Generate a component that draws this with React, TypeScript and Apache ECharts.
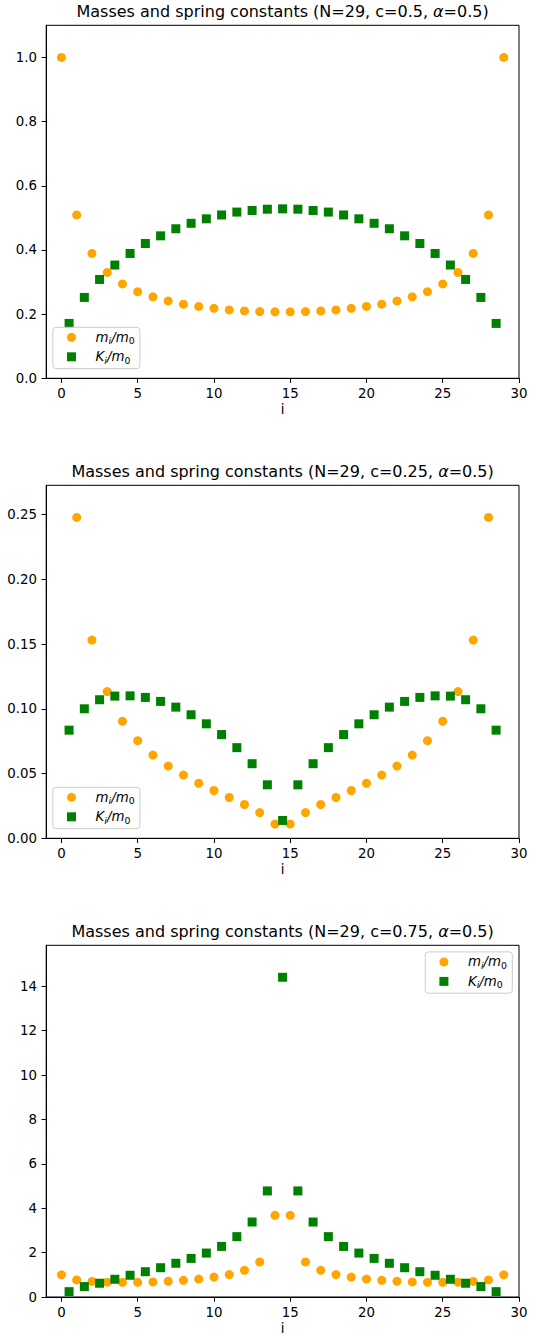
import React, { useEffect, useRef } from "react";
import * as echarts from "echarts";

// ---------- data ----------
const massIndex = [0, 1, 2, 3, 4, 5, 6, 7, 8, 9, 10, 11, 12, 13, 14, 15, 16, 17, 18, 19, 20, 21, 22, 23, 24, 25, 26, 27, 28, 29];
const springIndex = [0.5, 1.5, 2.5, 3.5, 4.5, 5.5, 6.5, 7.5, 8.5, 9.5, 10.5, 11.5, 12.5, 13.5, 14.5, 15.5, 16.5, 17.5, 18.5, 19.5, 20.5, 21.5, 22.5, 23.5, 24.5, 25.5, 26.5, 27.5, 28.5];

const titleCs = ["0.5", "0.25", "0.75"];

// c = 0.5
const mass1 = [1.0, 0.509, 0.389, 0.330, 0.294, 0.270, 0.254, 0.241, 0.231, 0.224, 0.218, 0.213, 0.210, 0.208, 0.207, 0.207, 0.208, 0.210, 0.213, 0.218, 0.224, 0.231, 0.241, 0.254, 0.270, 0.294, 0.330, 0.389, 0.509, 1.0];
const spring1 = [0.171, 0.252, 0.308, 0.353, 0.389, 0.420, 0.444, 0.466, 0.483, 0.497, 0.509, 0.518, 0.523, 0.527, 0.528, 0.527, 0.523, 0.518, 0.509, 0.497, 0.483, 0.466, 0.444, 0.420, 0.389, 0.353, 0.308, 0.252, 0.171];

// c = 0.25
const mass2 = [null, 0.2478, 0.1531, 0.1133, 0.0904, 0.0754, 0.0643, 0.0558, 0.0488, 0.0425, 0.0369, 0.0315, 0.0261, 0.0199, 0.0110, 0.0110, 0.0199, 0.0261, 0.0315, 0.0369, 0.0425, 0.0488, 0.0558, 0.0643, 0.0754, 0.0904, 0.1133, 0.1531, 0.2478, null];
const spring2 = [0.0835, 0.1000, 0.1070, 0.1098, 0.1100, 0.1088, 0.1057, 0.1013, 0.0954, 0.0884, 0.0801, 0.0700, 0.0576, 0.0413, 0.0138, 0.0413, 0.0576, 0.0700, 0.0801, 0.0884, 0.0954, 0.1013, 0.1057, 0.1088, 0.1100, 0.1098, 0.1070, 0.1000, 0.0835];

// c = 0.75
const mass3 = [1.0, 0.77, 0.70, 0.67, 0.66, 0.66, 0.68, 0.71, 0.75, 0.81, 0.90, 1.01, 1.20, 1.58, 3.68, 3.68, 1.58, 1.20, 1.01, 0.90, 0.81, 0.75, 0.71, 0.68, 0.66, 0.66, 0.67, 0.70, 0.77, 1.0];
const spring3 = [0.24, 0.47, 0.62, 0.80, 0.98, 1.14, 1.32, 1.52, 1.74, 1.98, 2.28, 2.72, 3.38, 4.78, 14.41, 4.78, 3.38, 2.72, 2.28, 1.98, 1.74, 1.52, 1.32, 1.14, 0.98, 0.80, 0.62, 0.47, 0.24];

// ticks
const xTicks = [0, 5, 10, 15, 20, 25, 30];
const xTickLabels = ["0", "5", "10", "15", "20", "25", "30"];
const yTicks1 = [0, 0.2, 0.4, 0.6, 0.8, 1.0];
const yTickLabels1 = ["0.0", "0.2", "0.4", "0.6", "0.8", "1.0"];
const yTicks2 = [0, 0.05, 0.1, 0.15, 0.2, 0.25];
const yTickLabels2 = ["0.00", "0.05", "0.10", "0.15", "0.20", "0.25"];
const yTicks3 = [0, 2, 4, 6, 8, 10, 12, 14];
const yTickLabels3 = ["0", "2", "4", "6", "8", "10", "12", "14"];

// ---------- styling ----------
const FONT = "DejaVu Sans";
const ORANGE = "#FFA500";
const GREEN = "#008000";
const TICK_FS = 13.33;
const AX_LEFT = 46.2;
const AX_RIGHT = 519;
const AX_H = 353;
const AX_TOPS = [25.3, 485.3, 945.3];

export default function App() {
  const ref = useRef<HTMLDivElement>(null);
  useEffect(() => {
    if (!ref.current) return;
    const chart = echarts.init(ref.current, null, { renderer: "svg" });

    const panels = [
      { mass: mass1, spring: spring1, yT: yTicks1, yL: yTickLabels1, legendPos: { left: 52.9, top: AX_TOPS[0] + 302 } },
      { mass: mass2, spring: spring2, yT: yTicks2, yL: yTickLabels2, legendPos: { left: 52.9, top: AX_TOPS[1] + 302 } },
      { mass: mass3, spring: spring3, yT: yTicks3, yL: yTickLabels3, legendPos: { right: 536 - 512.3, top: AX_TOPS[2] + 6.6 } },
    ];

    const maxOf = (a: (number | null)[]) => Math.max(...(a.filter((v) => v != null) as number[]));

    const labelStyle = { fontFamily: FONT, fontSize: TICK_FS, color: "#000" };

    const grids = panels.map((_, k) => ({
      left: AX_LEFT,
      width: AX_RIGHT - AX_LEFT,
      top: AX_TOPS[k],
      height: AX_H,
      show: true,
      borderColor: "#000",
      borderWidth: 1,
      backgroundColor: "transparent",
      containLabel: false,
    }));

    const xAxes = panels.map((_, k) => ({
      type: "value",
      gridIndex: k,
      min: -1,
      max: 30,
      name: "i",
      nameLocation: "middle",
      nameGap: 25,
      nameTextStyle: { ...labelStyle, verticalAlign: "top" },
      axisLine: { show: true, onZero: false, lineStyle: { color: "#000", width: 1 } },
      axisTick: { show: true, inside: false, length: 4.7, customValues: xTicks, lineStyle: { color: "#000", width: 1 } },
      axisLabel: {
        ...labelStyle,
        margin: 8.5,
        customValues: xTicks,
        formatter: (v: number) => xTickLabels[xTicks.indexOf(v)] ?? String(v),
      },
      splitLine: { show: false },
    }));

    const yAxes = panels.map((p, k) => {
      const ymax = 1.1 * Math.max(maxOf(p.mass), maxOf(p.spring));
      return {
        type: "value",
        gridIndex: k,
        min: 0,
        max: ymax,
        axisLine: { show: true, onZero: false, lineStyle: { color: "#000", width: 1 } },
        axisTick: { show: true, inside: false, length: 4.7, customValues: p.yT, lineStyle: { color: "#000", width: 1 } },
        axisLabel: {
          ...labelStyle,
          margin: 9.3,
          customValues: p.yT,
          formatter: (v: number) => {
            const idx = p.yT.findIndex((t) => Math.abs(t - v) < 1e-9);
            return idx >= 0 ? p.yL[idx] : String(v);
          },
        },
        splitLine: { show: false },
      };
    });

    const series: any[] = [];
    panels.forEach((p, k) => {
      series.push({
        type: "scatter",
        name: "m" + k,
        xAxisIndex: k,
        yAxisIndex: k,
        symbol: "circle",
        symbolSize: 9,
        itemStyle: { color: ORANGE, opacity: 1 },
        emphasis: { disabled: true },
        data: massIndex
          .map((x, i) => (p.mass[i] == null ? null : [x, p.mass[i]]))
          .filter((d) => d != null),
        z: 2,
      });
      series.push({
        type: "scatter",
        name: "K" + k,
        xAxisIndex: k,
        yAxisIndex: k,
        symbol: "rect",
        symbolSize: 9,
        itemStyle: { color: GREEN, opacity: 1 },
        emphasis: { disabled: true },
        data: springIndex.map((x, i) => [x, p.spring[i]]),
        z: 3,
      });
    });

    const it = { fontFamily: FONT, fontSize: TICK_FS, fontStyle: "italic", color: "#000", lineHeight: 16 };
    const legendRich = {
      first: { ...it, padding: [0, 0, 0, 14.6] },
      it: { ...it },
      sub: { fontFamily: FONT, fontSize: 9.33, fontStyle: "italic", color: "#000", lineHeight: 10, verticalAlign: "bottom" },
      sub0: { fontFamily: FONT, fontSize: 9.33, color: "#000", lineHeight: 10, verticalAlign: "bottom" },
    };

    const legends = panels.map((p, k) => ({
      ...p.legendPos,
      orient: "vertical",
      selectedMode: false,
      itemWidth: 9,
      itemHeight: 9,
      itemGap: 5,
      padding: [3.5, 5.3, 3.8, 14.1],
      backgroundColor: "rgba(255,255,255,0.8)",
      borderColor: "#cccccc",
      borderWidth: 1,
      borderRadius: 3,
      data: [
        { name: "m" + k, icon: "circle" },
        { name: "K" + k, icon: "rect" },
      ],
      formatter: (name: string) =>
        name.startsWith("m") ? "{first|m}{sub|i}{it|/m}{sub0|0}" : "{first|K}{sub|i}{it|/m}{sub0|0}",
      textStyle: { fontFamily: FONT, fontSize: TICK_FS, color: "#000", rich: legendRich },
    }));

    const titleRich = {
      n: { fontFamily: FONT, fontSize: 16, color: "#000" },
      a: { fontFamily: FONT, fontSize: 16, fontStyle: "italic", color: "#000" },
    };
    const graphics = titleCs.map((c, k) => ({
      type: "text",
      x: (AX_LEFT + AX_RIGHT) / 2,
      y: AX_TOPS[k] - 13.6,
      style: {
        text: `{n|Masses and spring constants (N=29, c=${c}, }{a|α}{n|=0.5)}`,
        rich: titleRich,
        fontFamily: FONT,
        fontSize: 16,
        fill: "#000",
        align: "center",
        verticalAlign: "middle",
      },
    }));

    chart.setOption({
      animation: false,
      backgroundColor: "#fff",
      grid: grids,
      xAxis: xAxes,
      yAxis: yAxes,
      legend: legends,
      series,
      graphic: graphics,
    });

    return () => chart.dispose();
  }, []);

  return (
    <div
      ref={ref}
      style={{ position: "absolute", left: 0, top: 0, width: 536, height: 1336, background: "#fff" }}
    />
  );
}
